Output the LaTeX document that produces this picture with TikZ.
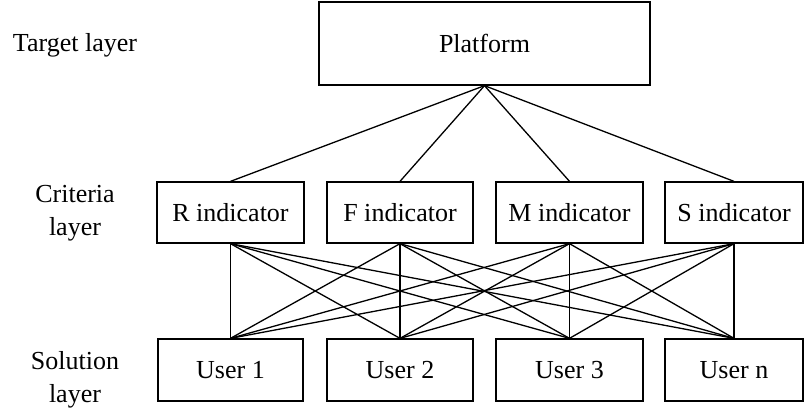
\documentclass[tikz,border=0pt]{standalone}
\usepackage{fontspec}
\setmainfont{Liberation Serif}
\begin{document}
\begin{tikzpicture}[x=1bp,y=-1bp,
  box/.style={draw,line width=1.3bp,inner sep=0pt,minimum height=61bp,font=\fontsize{26bp}{33bp}\selectfont},
  lbl/.style={align=center,inner sep=0pt,font=\fontsize{26bp}{33bp}\selectfont},
  link/.style={line width=1.3bp}]
\useasboundingbox (0,0) rectangle (804,410);
\node[box,minimum width=331bp,minimum height=83bp] (P) at (484.5,43.5) {Platform};
\node[box,minimum width=147bp] (R) at (230.5,212.5) {R indicator};
\node[box,minimum width=146bp] (F) at (400,212.5) {F indicator};
\node[box,minimum width=147bp] (M) at (569.5,212.5) {M indicator};
\node[box,minimum width=138bp] (S) at (734,212.5) {S indicator};
\node[box,minimum width=145bp,minimum height=62bp] (U1) at (230.5,370) {User 1};
\node[box,minimum width=146bp,minimum height=62bp] (U2) at (400,370) {User 2};
\node[box,minimum width=147bp,minimum height=62bp] (U3) at (569.5,370) {User 3};
\node[box,minimum width=138bp,minimum height=62bp] (U4) at (734,370) {User n};
\node[lbl] (t1) at (75,45) {Target layer};
\node[lbl] (t2) at (75,213) {Criteria\\layer};
\node[lbl] (t3) at (75,380) {Solution\\layer};
\foreach \c in {R,F,M,S} \draw[link] (P.south) -- (\c.north);
\foreach \c in {R,F,M,S}
  \foreach \u in {U1,U2,U3,U4}
    \draw[link] (\c.south) -- (\u.north);
\end{tikzpicture}
\end{document}
